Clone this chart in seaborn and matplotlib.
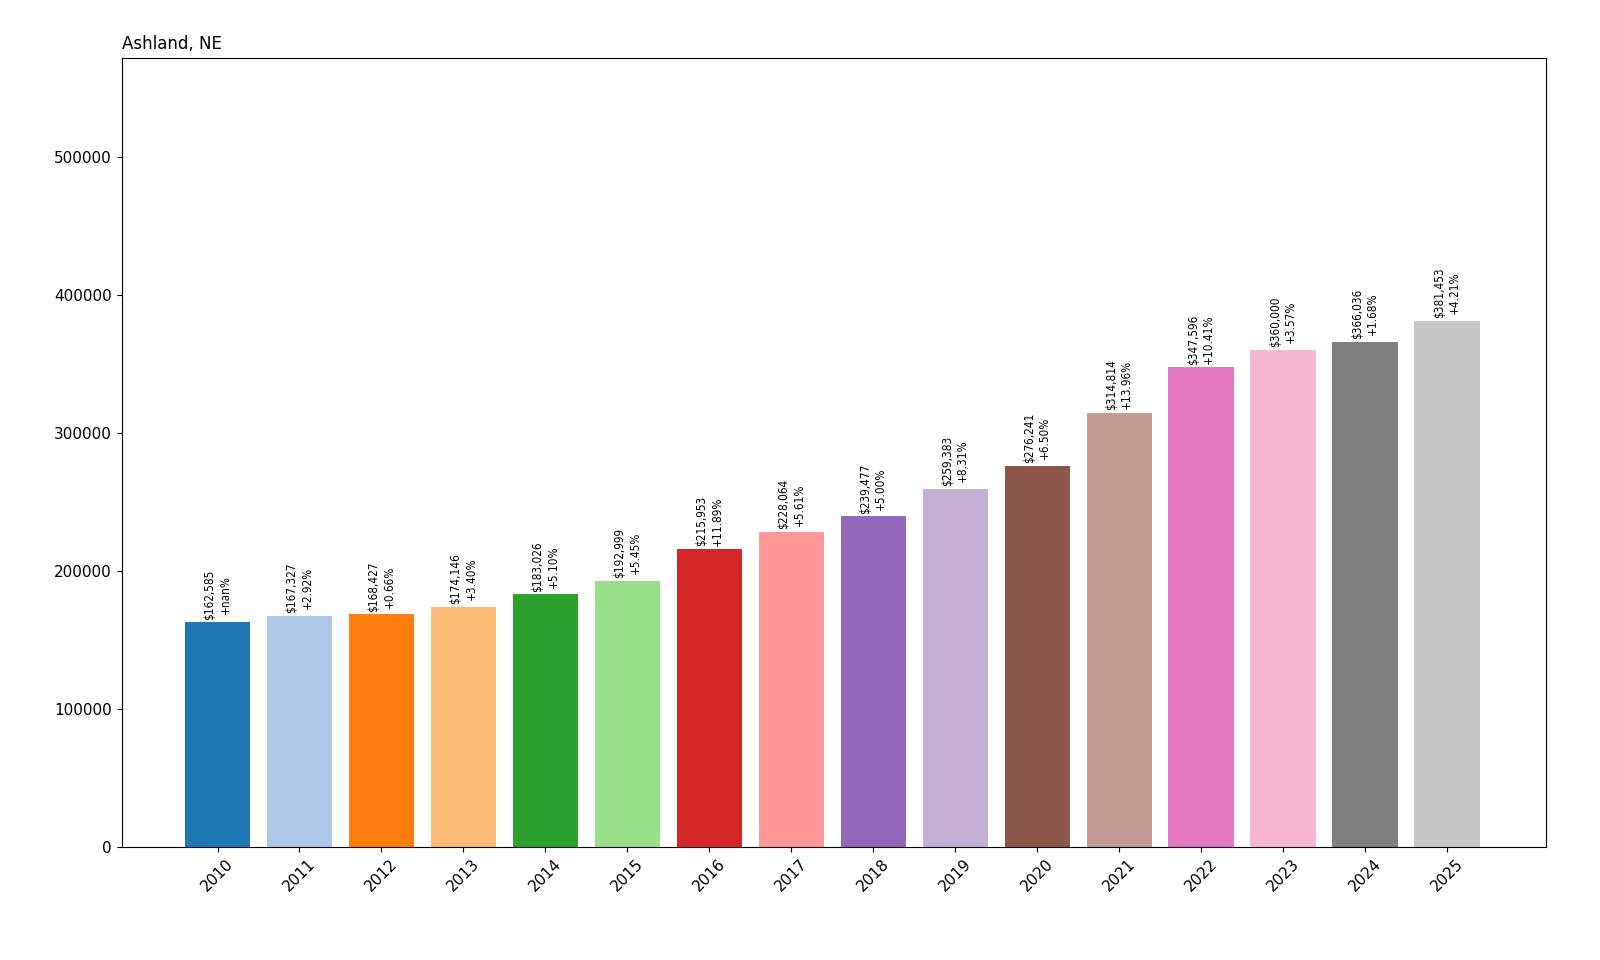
import matplotlib
matplotlib.use("Agg")
import matplotlib.pyplot as plt
import seaborn as sns
import pandas as pd
import numpy as np

years = [str(y) for y in range(2010, 2026)]
values = [162585, 167327, 168427, 174146, 183026, 192999, 215953, 228064,
          239477, 259383, 276241, 314814, 347596, 360000, 366036, 381453]
changes = ["+nan%", "+2.92%", "+0.66%", "+3.40%", "+5.10%", "+5.45%", "+11.89%", "+5.61%",
           "+5.00%", "+8.31%", "+6.50%", "+13.96%", "+10.41%", "+3.57%", "+1.68%", "+4.21%"]

df = pd.DataFrame({"year": years, "value": values})
colors = plt.get_cmap("tab20").colors[:16]

fig = plt.figure(figsize=(16, 9.6), dpi=100)
ax = fig.add_axes([0.076, 0.118, 0.89, 0.822])
sns.barplot(data=df, x="year", y="value", hue="year", palette=list(colors),
            legend=False, ax=ax, width=0.8, saturation=1)
for i, (v, c) in enumerate(zip(values, changes)):
    ax.text(i, v + 2000, f"${v:,}\n{c}", rotation=90, ha="center", va="bottom",
            fontsize=8.5, fontstretch="condensed")
ax.set_ylim(0, max(values) * 1.5)
ax.set_xlim(-1.17, 16.2)
ax.set_xlabel("")
ax.set_ylabel("")
ax.set_title("Ashland, NE", loc="left", fontsize=12)
ax.tick_params(axis="x", rotation=45, labelsize=11)
ax.tick_params(axis="y", labelsize=11)
ax.ticklabel_format(axis="y", style="plain")
fig.savefig("out.png", dpi=100)
